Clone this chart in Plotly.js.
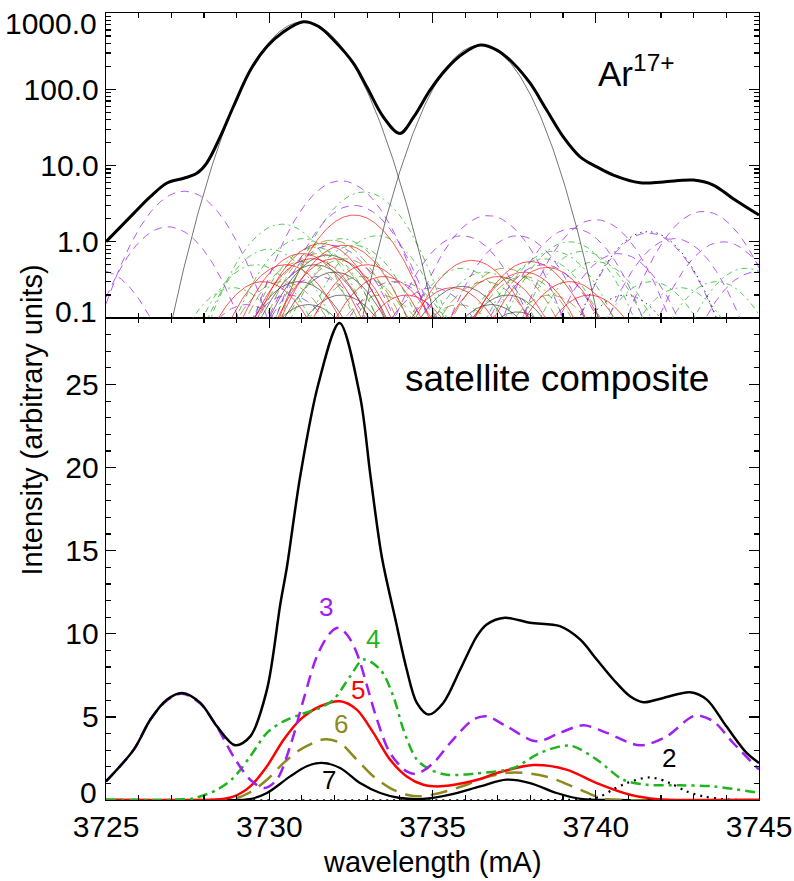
<!DOCTYPE html>
<html>
<head>
<meta charset="utf-8">
<script src="https://cdn.plot.ly/plotly-3.0.1.min.js"></script>
<style>html,body{margin:0;padding:0;background:#fff;}#chart{width:794px;height:881px;}</style>
</head>
<body>
<div id="chart"></div>
<script>
// ---------------- DATA ----------------
// x-axis ticks
var xTicks = [3725, 3730, 3735, 3740, 3745];
// bottom panel y ticks / labels
var botTickVals = [0, 5, 10, 15, 20, 25];
var botTickText = ['0', '5', '10', '15', '20', '25'];
// top panel log tick labels
var topTickVals = [0.1, 1, 10, 100, 1000];
var topTickText = ['0.1', '1.0', '10.0', '100.0', '1000.0'];

// Top panel: total Ar17+ spectrum (wavelength, intensity)
var totWl  = [3725.0,3725.85,3726.36,3726.87,3727.38,3727.78,3728.08,3728.5,3728.9,3729.42,3729.93,3730.44,3731.05,3731.5,3731.97,3732.58,3732.99,3733.5,3734.0,3734.42,3734.93,3735.44,3735.95,3736.46,3736.97,3737.48,3737.99,3738.5,3739.0,3739.52,3740.03,3740.54,3741.36,3742.07,3742.99,3743.6,3744.2,3745.0];
var totVal = [1.0,2.36,3.9,5.9,6.8,7.9,10.7,23.9,59,178,363,569,770,670,443,219,107,43,26.4,43,98,188,296,380,327,218,120,53,23.9,13,9.6,7.5,5.94,6.1,6.45,5.55,3.7,2.24];

// Top panel: resonance lines (Lyman alpha 1,2): centre, peak, gaussian sigma
var lyaCenter = [3731.05, 3736.46];
var lyaPeak   = [770, 380];
var lyaSigma  = [0.95, 0.89];

// Top panel: individual satellite lines, grouped by spectator n (centre, peak)
var satSigma = 0.92;
var n3Center = [3724.8,3726.9,3727.4,3729.3,3730.6,3731.5,3731.9,3732.2,3732.6,3733.8,3735.0,3735.9,3736.7,3737.6,3738.4,3739.3,3740.0,3740.7,3741.6,3742.4,3743.3,3743.9,3744.9];
var n3Peak   = [0.42,1.57,4.6,0.15,0.2,0.35,0.9,6.3,3.0,0.3,0.25,1.2,2.2,1.2,0.5,1.5,1.95,0.7,1.3,1.1,2.5,1.0,0.4];
var n4Center = [3728.9,3729.6,3730.0,3730.4,3731.0,3731.4,3732.2,3732.6,3732.9,3733.3,3734.0,3735.9,3736.6,3737.6,3738.4,3738.7,3739.2,3739.6,3740.0,3741.7,3742.6,3743.7,3744.6];
var n4Peak   = [0.25,0.5,0.8,1.7,1.1,0.85,1.1,0.9,4.5,1.2,0.3,0.45,0.4,0.35,0.6,0.75,1.0,0.75,0.55,0.3,0.25,0.3,0.45];
var n5Center = [3729.8,3730.5,3731.0,3731.3,3731.6,3732.0,3732.3,3732.6,3733.0,3733.5,3734.2,3735.6,3736.2,3737.0,3737.8,3738.0,3738.5,3739.2,3739.8];
var n5Peak   = [0.3,0.5,0.7,0.6,0.95,0.6,0.9,2.24,0.5,0.35,0.2,0.25,0.57,0.35,0.4,0.55,0.46,0.3,0.2];
var n6Center = [3730.4,3731.0,3731.5,3731.9,3732.3,3732.8,3733.4,3735.8,3736.6,3737.2,3737.8,3738.6];
var n6Peak   = [0.3,0.55,0.7,1.05,0.6,0.35,0.2,0.15,0.3,0.45,0.35,0.2];
var n7Center = [3730.9,3731.2,3731.4,3731.8,3732.0,3732.2,3735.9,3736.8,3737.3,3737.6];
var n7Peak   = [0.3,0.15,0.5,0.67,0.4,0.2,0.26,0.15,0.2,0.12];
var n2Center = [3740.9,3741.6];
var n2Peak   = [0.2,1.36];

// Bottom panel: satellite composite (sum) and per-n composites
var compWl  = [3725.0,3725.85,3726.36,3726.87,3727.33,3727.89,3728.4,3728.96,3729.42,3729.93,3730.34,3730.54,3730.95,3731.5,3732.15,3732.78,3733.1,3733.45,3733.86,3734.21,3734.52,3734.88,3735.33,3735.85,3736.36,3736.66,3737.22,3737.99,3738.9,3739.52,3740.03,3740.54,3741.05,3741.46,3742.07,3742.89,3743.4,3744.0,3744.62,3745.0];
var compVal = [1.12,3.03,4.84,6.04,6.44,5.84,4.43,3.29,3.83,6.64,11.8,14.0,19.5,25.0,28.7,24.3,19.5,14.6,10.9,7.85,5.84,5.14,5.84,7.85,9.86,10.56,10.96,10.66,10.46,9.66,8.45,7.25,6.24,5.88,6.14,6.48,6.04,4.43,2.83,2.23];

var n3Wl  = [3725.0,3725.85,3726.36,3726.87,3727.33,3727.89,3728.4,3728.9,3729.42,3729.85,3730.23,3730.64,3731.05,3731.46,3731.87,3732.12,3732.4,3732.68,3732.99,3733.3,3733.7,3734.21,3734.52,3735.03,3735.54,3736.25,3736.66,3737.27,3738.19,3738.9,3739.62,3740.34,3741.36,3742.17,3743.04,3743.6,3744.21,3745.0];
var n3Val = [1.12,3.03,4.84,6.0,6.4,5.8,4.4,2.63,1.22,0.72,1.22,3.23,6.04,8.65,10.06,10.36,9.9,8.85,6.9,4.84,2.83,1.72,1.58,2.23,3.43,4.84,5.04,4.43,3.53,4.04,4.49,4.04,3.29,3.83,5.08,4.73,3.43,1.83];

var n4Wl  = [3725.0,3726.5,3727.2,3727.68,3728.4,3728.9,3729.42,3729.93,3730.44,3730.95,3731.56,3731.97,3732.48,3732.89,3733.4,3733.8,3734.11,3734.52,3734.93,3735.44,3736.25,3737.48,3738.29,3739.21,3740.03,3740.84,3741.56,3742.58,3743.6,3745.0];
var n4Val = [0.0,0.0,0.03,0.1,0.62,1.33,2.63,4.04,4.73,5.14,5.54,6.04,7.45,8.45,7.85,6.24,4.23,2.43,1.83,1.52,1.58,1.93,2.83,3.27,2.43,1.22,0.92,0.88,0.82,0.42];

var n5Wl  = [3725.0,3727.5,3728.4,3728.9,3729.42,3729.93,3730.44,3730.95,3731.56,3732.17,3732.68,3733.19,3733.7,3734.21,3734.72,3735.23,3735.95,3736.46,3736.97,3738.09,3739.1,3740.03,3741.05,3741.9,3743.0,3745.0];
var n5Val = [0.0,0.0,0.03,0.2,0.82,2.03,3.63,4.84,5.64,5.94,5.44,4.04,2.43,1.42,0.92,0.82,1.02,1.26,1.62,2.1,1.83,1.02,0.32,0.05,0.0,0.0];

var n6Wl  = [3725.0,3728.0,3728.9,3729.4,3729.93,3730.44,3730.95,3731.56,3731.76,3732.17,3732.68,3733.19,3733.7,3734.21,3734.6,3735.23,3736.05,3736.6,3737.48,3738.5,3739.52,3740.2,3740.8,3745.0];
var n6Val = [0.0,0.0,0.05,0.45,1.22,2.23,3.03,3.6,3.65,3.43,2.43,1.42,0.72,0.32,0.22,0.42,0.92,1.35,1.66,1.4,0.62,0.1,0.0,0.0];

var n7Wl  = [3725.0,3728.5,3729.4,3729.93,3730.64,3731.15,3731.61,3732.17,3732.78,3733.4,3734.0,3734.7,3735.54,3736.46,3737.27,3737.99,3738.8,3739.6,3740.5,3745.0];
var n7Val = [0.0,0.0,0.05,0.42,1.42,2.03,2.23,1.93,1.02,0.42,0.12,0.06,0.32,0.82,1.22,1.02,0.42,0.05,0.0,0.0];

var n2Wl  = [3725.0,3739.0,3739.8,3740.13,3740.5,3740.95,3741.66,3742.27,3742.78,3743.29,3743.9,3744.5,3745.0];
var n2Val = [0.0,0.0,0.05,0.2,0.6,1.02,1.36,1.02,0.52,0.22,0.05,0.0,0.0];

// curve labels (text, wavelength, intensity)
var labelText = ['3', '4', '5', '6', '7', '2'];
var labelWl   = [3731.74, 3733.18, 3732.72, 3732.2, 3731.83, 3742.24];
var labelVal  = [11.6, 9.66, 6.64, 4.6, 1.2, 2.51];

// ---------------- STYLE ----------------
var FONT = 'Liberation Sans, Arial, Helvetica, sans-serif';
var C3 = '#a020f0', C4 = '#1fb51f', C5 = '#ff0000', C6 = '#8c8a1e', C7 = '#000000', C2 = '#000000';
var labelColors = [C3, C4, C5, C6, C7, C2];
var TICKSIZE = 30;

// ---------------- BUILD TRACES ----------------
var traces = [];

function gaussTrace(center, peak, sigma, color, dash, width, opacity) {
  var xs = [], ys = [];
  var half = sigma * Math.sqrt(2 * Math.log(peak / 0.05 > 1 ? peak / 0.05 : 1.0001));
  var lo = Math.max(3725, center - half), hi = Math.min(3745, center + half);
  var n = Math.max(20, Math.ceil((hi - lo) / 0.04));
  for (var i = 0; i <= n; i++) {
    var x = lo + (hi - lo) * i / n;
    var v = peak * Math.exp(-0.5 * Math.pow((x - center) / sigma, 2));
    xs.push(x); ys.push(Math.max(v, 0.05));
  }
  return {x: xs, y: ys, xaxis: 'x2', yaxis: 'y2', mode: 'lines', hoverinfo: 'skip',
          line: {color: color, width: width, dash: dash}, opacity: opacity};
}

function addGroup(centers, peaks, color, dash, width, opacity) {
  for (var i = 0; i < centers.length; i++) {
    traces.push(gaussTrace(centers[i], peaks[i], satSigma, color, dash, width, opacity));
  }
}
// satellite forest in top panel
addGroup(n7Center, n7Peak, C7, 'solid', 0.9, 0.6);
addGroup(n6Center, n6Peak, C6, '10px,5px', 1.0, 0.75);
addGroup(n5Center, n5Peak, C5, 'solid', 0.9, 0.75);
addGroup(n4Center, n4Peak, C4, '6px,4px,2px,4px', 1.0, 0.75);
addGroup(n3Center, n3Peak, C3, '8px,6px', 1.0, 0.75);
addGroup(n2Center, n2Peak, C2, '1.5px,4px', 1.0, 0.8);
// Lyman alpha lines
for (var k = 0; k < lyaCenter.length; k++) {
  traces.push(gaussTrace(lyaCenter[k], lyaPeak[k], lyaSigma[k], '#333333', 'solid', 0.8, 0.85));
}
// total
traces.push({x: totWl, y: totVal, xaxis: 'x2', yaxis: 'y2', mode: 'lines', hoverinfo: 'skip',
  line: {color: '#000', width: 3, shape: 'spline', smoothing: 1}});

// bottom panel
function botTrace(xs, ys, color, dash, width) {
  return {x: xs, y: ys, xaxis: 'x', yaxis: 'y', mode: 'lines', hoverinfo: 'skip',
    line: {color: color, width: width, dash: dash, shape: 'spline', smoothing: 0.9}};
}
traces.push(botTrace(n2Wl, n2Val, C2, '2px,5px', 2.2));
traces.push(botTrace(n7Wl, n7Val, C7, 'solid', 2.3));
traces.push(botTrace(n6Wl, n6Val, C6, '17px,9px', 2.5));
traces.push(botTrace(n5Wl, n5Val, C5, 'solid', 2.5));
traces.push(botTrace(n4Wl, n4Val, C4, '10px,5px,3px,5px', 2.5));
traces.push(botTrace(n3Wl, n3Val, C3, '12px,7px', 2.5));
traces.push(botTrace(compWl, compVal, '#000', 'solid', 2.5));

// ---------------- LAYOUT ----------------
var splitY = 482 / 787;
function logMinor() {
  var v = [];
  for (var d = -1; d < 3; d++) for (var m = 2; m <= 9; m++) v.push(m * Math.pow(10, d));
  return v;
}
var axisCommon = {showline: true, linecolor: '#000', linewidth: 1.3, mirror: 'ticks',
  ticks: 'inside', ticklen: 10, tickwidth: 1.2, tickcolor: '#000', ticklabeloverflow: 'allow',
  showgrid: false, zeroline: false, tickfont: {family: FONT, size: TICKSIZE, color: '#000'}};

// the end labels of each y axis sit nudged inwards (as in the reference): drawn as text annotations,
// the axis itself labels only the inner ticks
var botInnerVals = botTickVals.slice(1), botInnerText = botTickText.slice(1);
var topInnerVals = topTickVals.slice(1, -1), topInnerText = topTickText.slice(1, -1);

var annotations = [];
for (var j = 0; j < labelText.length; j++) {
  annotations.push({x: labelWl[j], y: labelVal[j], xref: 'x', yref: 'y', text: labelText[j],
    showarrow: false, font: {family: FONT, size: 26, color: labelColors[j]}, xanchor: 'center', yanchor: 'middle'});
}
var LX = (99 - 106) / 653;
annotations.push({x: LX, y: (800 - 792) / 787, xref: 'paper', yref: 'paper', text: botTickText[0],
  showarrow: false, font: {family: FONT, size: TICKSIZE, color: '#000'}, xanchor: 'right', yanchor: 'middle'});
annotations.push({x: LX, y: (800 - 311) / 787, xref: 'paper', yref: 'paper', text: topTickText[0],
  showarrow: false, font: {family: FONT, size: TICKSIZE, color: '#000'}, xanchor: 'right', yanchor: 'middle'});
annotations.push({x: LX, y: (800 - 23) / 787, xref: 'paper', yref: 'paper', text: topTickText[topTickText.length - 1],
  showarrow: false, font: {family: FONT, size: TICKSIZE, color: '#000'}, xanchor: 'right', yanchor: 'middle'});
annotations.push({x: 0.69, y: 0.536, xref: 'paper', yref: 'paper', text: 'satellite composite',
  showarrow: false, font: {family: FONT, size: 37, color: '#000'}, xanchor: 'center', yanchor: 'middle'});
annotations.push({x: 0.75, y: 0.926, xref: 'paper', yref: 'paper', text: 'Ar<sup>17+</sup>',
  showarrow: false, font: {family: FONT, size: 35, color: '#000'}, xanchor: 'left', yanchor: 'middle'});
annotations.push({x: -0.114, y: 0.483, xref: 'paper', yref: 'paper', text: 'Intensity (arbitrary units)',
  textangle: -90, showarrow: false, font: {family: FONT, size: 29, color: '#000'}, xanchor: 'center', yanchor: 'middle'});
annotations.push({x: 0.5, y: -0.079, xref: 'paper', yref: 'paper', text: 'wavelength (mA)',
  showarrow: false, font: {family: FONT, size: 29, color: '#000'}, xanchor: 'center', yanchor: 'middle'});

var layout = {
  width: 794, height: 881,
  margin: {l: 106, r: 35, t: 13, b: 81, pad: 0},
  paper_bgcolor: '#fff', plot_bgcolor: '#fff',
  showlegend: false,
  font: {family: FONT, color: '#000'},
  xaxis: Object.assign({}, axisCommon, {anchor: 'y', range: [3725, 3745], tickmode: 'array', tickvals: xTicks,
    minor: {dtick: 1, tick0: 3725, ticks: 'inside', ticklen: 5, tickcolor: '#000'}}),
  yaxis: Object.assign({}, axisCommon, {anchor: 'x', domain: [0, splitY], range: [0, 29],
    tickmode: 'array', tickvals: botInnerVals, ticktext: botInnerText,
    minor: {dtick: 1, tick0: 0, ticks: 'inside', ticklen: 5, tickcolor: '#000'}}),
  xaxis2: Object.assign({}, axisCommon, {anchor: 'y2', matches: 'x', range: [3725, 3745], showticklabels: false,
    tickmode: 'array', tickvals: xTicks,
    minor: {dtick: 1, tick0: 3725, ticks: 'inside', ticklen: 5, tickcolor: '#000'}}),
  yaxis2: Object.assign({}, axisCommon, {anchor: 'x2', domain: [splitY, 1], type: 'log', range: [-1, 3.0005],
    tickmode: 'array', tickvals: topInnerVals, ticktext: topInnerText,
    minor: {tickmode: 'array', tickvals: logMinor(), ticks: 'inside', ticklen: 5, tickcolor: '#000'}}),
  annotations: annotations
};

Plotly.newPlot('chart', traces, layout, {staticPlot: true, displayModeBar: false});
</script>
</body>
</html>
